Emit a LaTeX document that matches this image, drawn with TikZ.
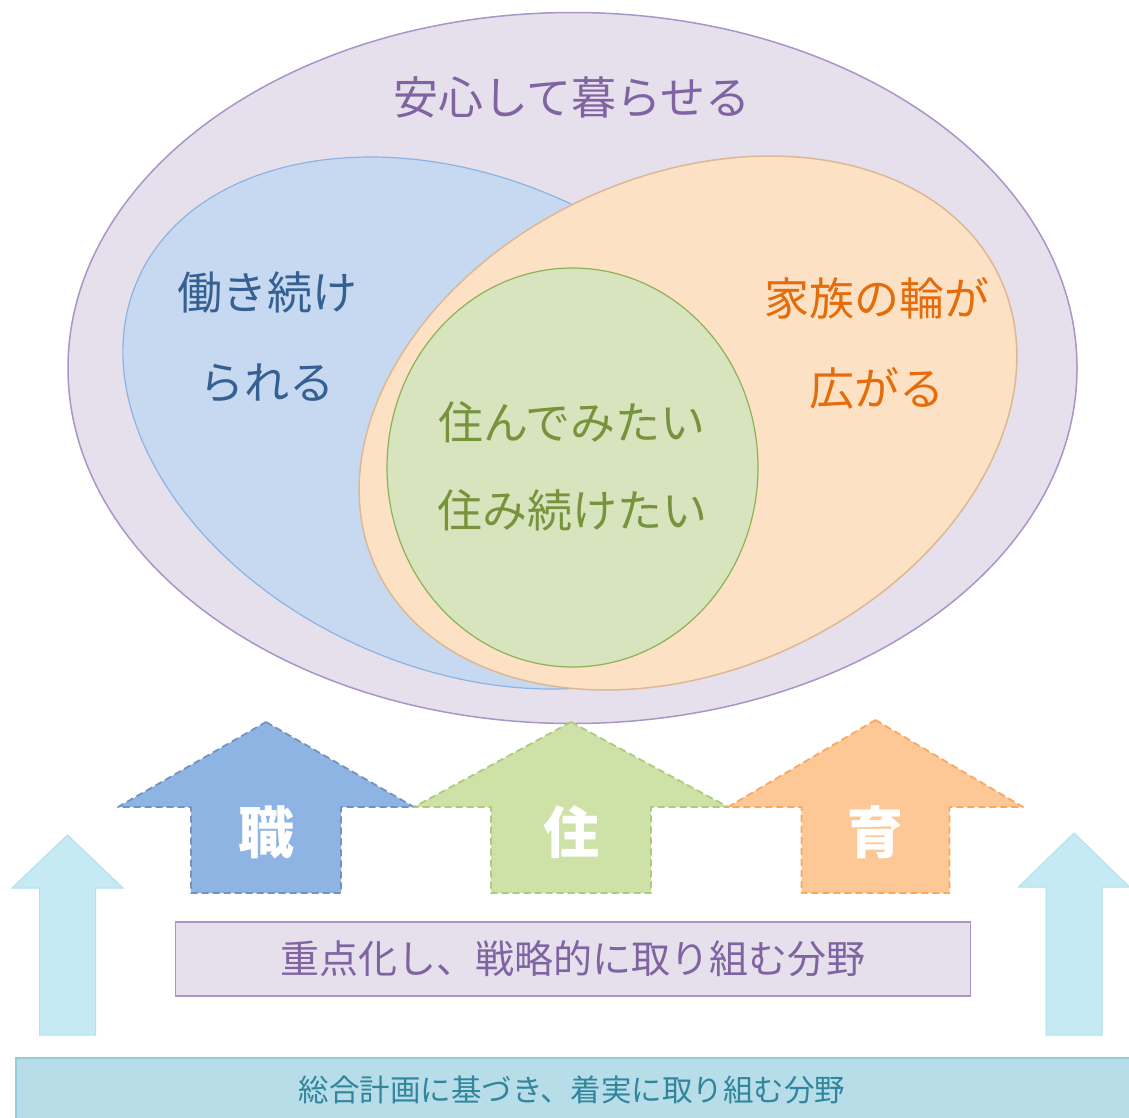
\documentclass[tikz,border=0pt]{standalone}
\usepackage{fontspec}
\newfontfamily\jp{Noto Sans CJK JP}
% colores
\definecolor{lila}{HTML}{E5E0EC}
\definecolor{lilaborde}{HTML}{A896C6}
\definecolor{lilatexto}{HTML}{8064A2}
\definecolor{azul}{HTML}{C6D9F1}
\definecolor{azulborde}{HTML}{8DB3E2}
\definecolor{azultexto}{HTML}{376092}
\definecolor{naranja}{HTML}{FDE1C5}
\definecolor{naranjaborde}{HTML}{DDB893}
\definecolor{naranjatexto}{HTML}{E46C0A}
\definecolor{verde}{HTML}{D7E4BD}
\definecolor{verdeborde}{HTML}{8DB255}
\definecolor{verdetexto}{HTML}{77933C}
\definecolor{azulf}{HTML}{8EB4E3}
\definecolor{azuld}{HTML}{7392C0}
\definecolor{verdef}{HTML}{CEE1A7}
\definecolor{verded}{HTML}{ADCB7D}
\definecolor{naranjaf}{HTML}{FDC896}
\definecolor{naranjad}{HTML}{F8A862}
\definecolor{cielo}{HTML}{C6EAF4}
\definecolor{cieloborde}{HTML}{B0E0EE}
\definecolor{base}{HTML}{B7DEE8}
\definecolor{baseborde}{HTML}{93CDDD}
\definecolor{basetexto}{HTML}{31859C}

\begin{document}
\begin{tikzpicture}[x=1pt,y=-1pt,
        texto/.style={font=\jp\fontsize{45}{90}\selectfont, align=center, inner sep=0pt},
        flecha/.style={line width=1.8pt, dash pattern=on 7pt off 4pt, line join=round},
        celeste/.style={fill=cielo, draw=cieloborde, line width=1pt}]
        \useasboundingbox (0,0) rectangle (1129,1117);
        % Elipse grande
        \filldraw[fill=lila, draw=lilaborde, line width=1.5pt] (572.5,368) ellipse [x radius=504.5pt, y radius=355.5pt];
        % Elipses interiores (inclinadas)
        \filldraw[fill=azul, draw=azulborde, line width=1.2pt, rotate around={-24:(461,423)}] (461,423) ellipse [x radius=353.6pt, y radius=244.9pt];
        \filldraw[fill=naranja, draw=naranjaborde, line width=1.5pt, rotate around={25:(688,423)}] (688,423) ellipse [x radius=344pt, y radius=247pt];
        \filldraw[fill=verde, draw=verdeborde, line width=1.2pt] (572.5,467.5) ellipse [x radius=185.5pt, y radius=199.5pt];
        % Textos
        \node[texto, lilatexto] (anshin) at (572,97) {安心して暮らせる};
        \node[texto, azultexto] (hataraki) at (267,337) {働き続け\\られる};
        \node[texto, naranjatexto] (kazoku) at (877,343) {家族の輪が\\広がる};
        \node[texto, verdetexto, font=\jp\fontsize{45}{88}\selectfont] (sumi) at (572,466) {住んでみたい\\住み続けたい};
        % Flechas de los tres campos
        \foreach \cx/\yt/\hw/\sw/\fc/\dc/\lab/\nom in {266/722/148/75/azulf/azuld/職/shoku, 571/722/157/80/verdef/verded/住/ju, 875.5/720/147.5/74/naranjaf/naranjad/育/iku}{
            \filldraw[flecha, fill=\fc, draw=\dc] (\cx,\yt) -- (\cx+\hw,807) -- (\cx+\sw,807) -- (\cx+\sw,893)
                -- (\cx-\sw,893) -- (\cx-\sw,807) -- (\cx-\hw,807) -- cycle;
            \node[white, inner sep=0pt, font=\jp\bfseries\fontsize{56}{60}\selectfont] (\nom) at (\cx,832) {\lab};
        }
        % Flechas laterales
        \foreach \cx/\yt/\hy in {67.5/835/888, 1074/833/887}
            \filldraw[celeste] (\cx,\yt) -- (\cx+55.5,\hy) -- (\cx+28,\hy) -- (\cx+28,1035)
                -- (\cx-28,1035) -- (\cx-28,\hy) -- (\cx-55.5,\hy) -- cycle;
        % Recuadro central
        \node[draw=lilaborde, fill=lila, line width=1.5pt, minimum width=795pt, minimum height=74pt,
            text=lilatexto, font=\jp\fontsize{39}{44}\selectfont] (enfoque) at (573,959) {重点化し、戦略的に取り組む分野};
        % Barra inferior
        \filldraw[fill=base, draw=baseborde, line width=1.5pt] (16,1058) rectangle (1140,1130);
        \node[text=basetexto, inner sep=0pt, font=\jp\fontsize{30.5}{34}\selectfont] (sogo) at (572,1090) {総合計画に基づき、着実に取り組む分野};
\end{tikzpicture}
\end{document}
